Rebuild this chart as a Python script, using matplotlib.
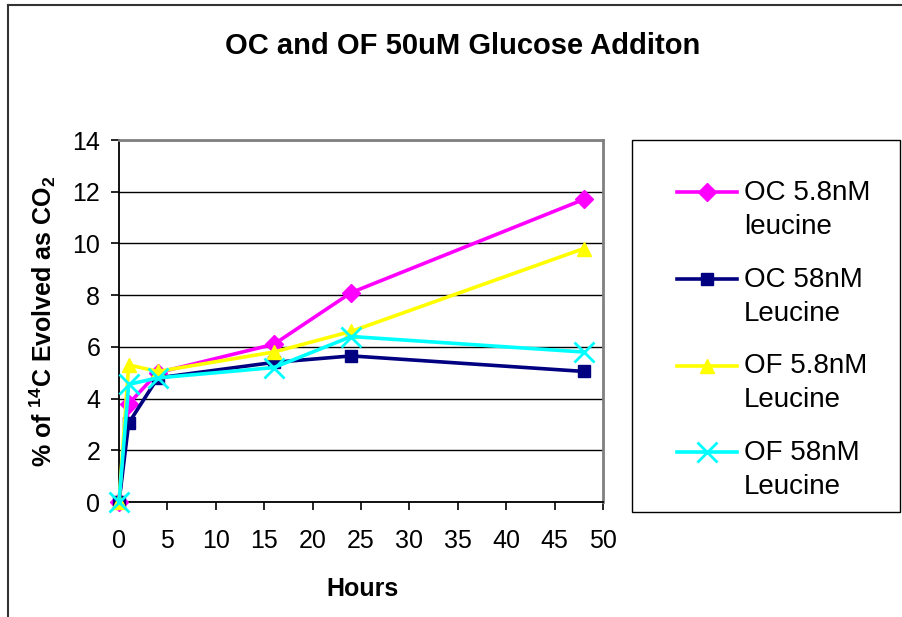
"""
OC / OF 50uM グルコース添加: 14C の CO2 放出率の時間変化.
"""

import matplotlib.pyplot as plt
from matplotlib.legend_handler import HandlerLine2D
from matplotlib.lines import Line2D
from matplotlib.patches import Rectangle

plt.rcParams["font.family"] = ["Liberation Sans", "DejaVu Sans"]
plt.rcParams["mathtext.fontset"] = "custom"
plt.rcParams["mathtext.rm"] = "Liberation Sans"
plt.rcParams["mathtext.bf"] = "Liberation Sans:bold"

hours = [0, 1, 4, 16, 24, 48]
oc_58_low = [0.0, 3.8, 5.0, 6.1, 8.1, 11.7]
oc_58_high = [0.0, 3.05, 4.8, 5.4, 5.65, 5.05]
of_58_low = [0.0, 5.3, 5.05, 5.8, 6.6, 9.8]
of_58_high = [0.0, 4.55, 4.8, 5.2, 6.4, 5.8]

series = [
    (oc_58_low, "OC 5.8nM\nleucine", "#FF00FF", "D", 9),
    (oc_58_high, "OC 58nM\nLeucine", "#000080", "s", 8),
    (of_58_low, "OF 5.8nM\nLeucine", "#FFFF00", "^", 10),
    (of_58_high, "OF 58nM\nLeucine", "#00FFFF", "x", 15),
]


class FirstLineHandler(HandlerLine2D):
    # 凡例マーカーを2行ラベルの1行目に揃える
    def create_artists(self, legend, orig_handle, xdescent, ydescent, width, height, fontsize, trans):
        return super().create_artists(legend, orig_handle, xdescent, ydescent - 1.3 * fontsize,
                                      width, height, fontsize, trans)


fig = plt.figure(figsize=(9.02, 6.17), dpi=100)
ax = fig.add_axes([119 / 902, 1 - 502 / 617, 484 / 902, 362 / 617])

lines = []
for ys, label, color, marker, ms in series:
    (ln,) = ax.plot(hours, ys, color=color, marker=marker, markersize=ms, linewidth=2.6,
                    markeredgewidth=2 if marker == "x" else 1, label=label, clip_on=False, zorder=3)
    lines.append(ln)

ax.set_xlim(0, 50)
ax.set_ylim(0, 14)
ax.set_xticks(range(0, 51, 5))
ax.set_yticks(range(0, 15, 2))
ax.yaxis.grid(True, color="black", linewidth=1.0)
ax.set_axisbelow(True)
ax.tick_params(axis="both", direction="out", length=5.5, width=1.2, labelsize=18)
ax.tick_params(axis="x", pad=14)
ax.tick_params(axis="y", pad=8)

for side in ["left", "bottom"]:
    ax.spines[side].set_color("black")
    ax.spines[side].set_linewidth(1.3)
for side in ["right", "top"]:
    ax.spines[side].set_color("#808080")
    ax.spines[side].set_linewidth(2)

ax.set_xlabel("Hours", fontsize=18, fontweight="bold")
ax.xaxis.set_label_coords(0.503, -0.207)
ax.set_ylabel(r"% of $\mathbf{^{14}}$C Evolved as CO$\mathbf{_2}$", fontsize=18, fontweight="bold")
ax.yaxis.set_label_coords(-0.126, 0.5)
fig.text(463 / 902, 1 - 46 / 617, "OC and OF 50uM Glucose Additon",
         fontsize=21, fontweight="bold", ha="center", va="center")

# 凡例の枠
fig.add_artist(Rectangle((632 / 902, 1 - 512 / 617), 268 / 902, 372 / 617, transform=fig.transFigure,
                         facecolor="white", edgecolor="black", linewidth=1.0))
leg = fig.legend(handles=lines, loc="upper left", bbox_to_anchor=(677 / 902, 1 - 180 / 617),
                 fontsize=20, handlelength=2.16, labelspacing=0.96, borderpad=0,
                 handletextpad=0.25, borderaxespad=0, frameon=False,
                 handler_map={Line2D: FirstLineHandler()})
for t in leg.get_texts():
    t.set_linespacing(1.4)

# チャート外枠
fig.add_artist(Line2D([8 / 902, 8 / 902], [0, 1 - 5 / 617], color="#333333", linewidth=1.5))
fig.add_artist(Line2D([8 / 902, 1], [1 - 5 / 617, 1 - 5 / 617], color="#333333", linewidth=1.5))

fig.savefig("out.png", dpi=100)
